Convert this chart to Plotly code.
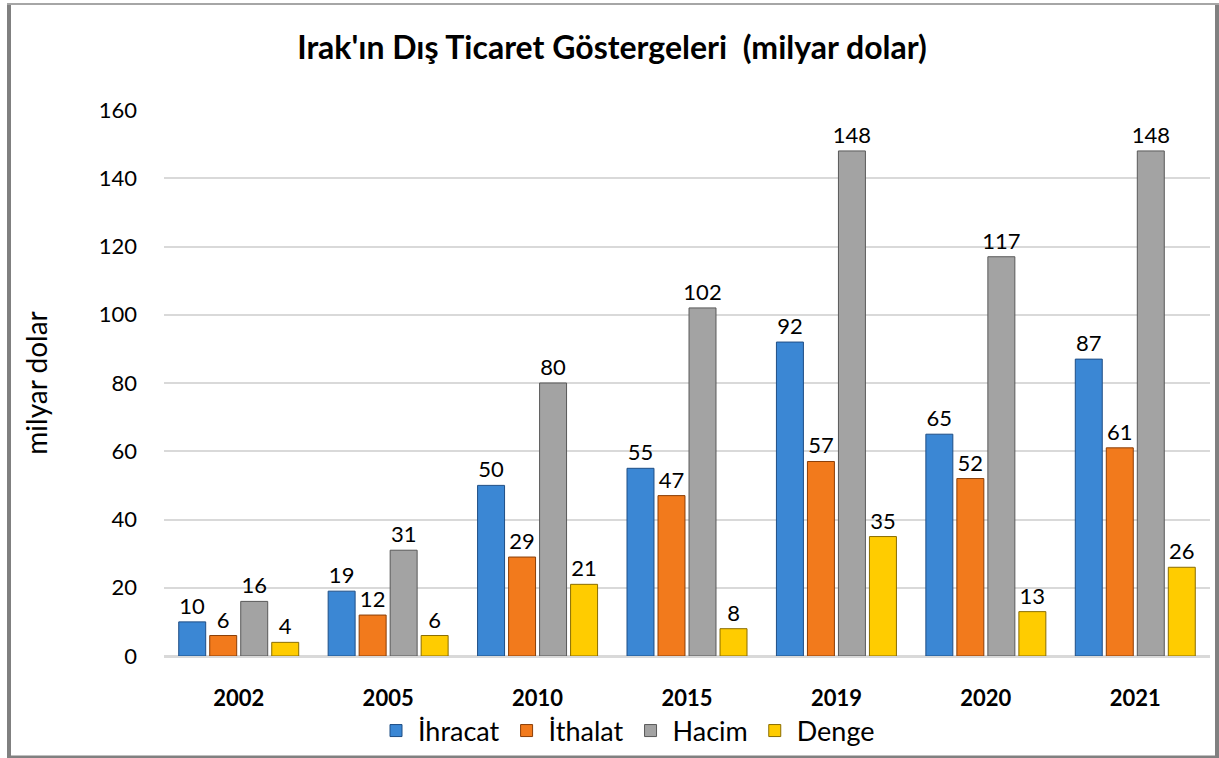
import plotly.graph_objects as go

years = ["2002", "2005", "2010", "2015", "2019", "2020", "2021"]
ihracat = [10, 19, 50, 55, 92, 65, 87]
ithalat = [6, 12, 29, 47, 57, 52, 61]
hacim = [16, 31, 80, 102, 148, 117, 148]
denge = [4, 6, 21, 8, 35, 13, 26]

series = [
    ("İhracat", ihracat, "#3b87d4", "#1f4e85"),
    ("İthalat", ithalat, "#f27a1c", "#8a3e08"),
    ("Hacim", hacim, "#a3a3a3", "#595959"),
    ("Denge", denge, "#ffcc00", "#8a6d00"),
]

W, H = 1219, 758
L, R, T, B = 164, 9, 110, 102
pw, ph = W - L - R, H - T - B

def px(x):
    return (x - L) / pw

def py(y):
    return (H - B - y) / ph

FONT = "Lato"

fig = go.Figure()
for name, vals, col, edge in series:
    fig.add_trace(go.Bar(
        x=years, y=vals, name=name,
        marker=dict(color=col, line=dict(color=edge, width=1)),
        text=[str(v) for v in vals],
        textposition="outside",
        constraintext="none",
        textfont=dict(family=FONT, size=22, color="#000000"),
        cliponaxis=False,
    ))

border = "#808080"
fig.update_layout(
    width=W, height=H,
    margin=dict(l=L, r=R, t=T, b=B, autoexpand=False),
    paper_bgcolor="white", plot_bgcolor="white",
    barmode="group", bargap=0.17, bargroupgap=0.13,
    title=dict(text="<b>Irak'ın Dış Ticaret Göstergeleri  (milyar dolar)</b>",
               x=px(612), xref="paper", xanchor="center",
               y=1 - 48 / H, yanchor="middle",
               font=dict(family=FONT, size=32, color="#000000")),
    font=dict(family=FONT, color="#000000"),
    showlegend=True,
    legend=dict(orientation="h", x=px(627), xanchor="center",
                y=py(731), yanchor="middle", bgcolor="rgba(0,0,0,0)",
                font=dict(family=FONT, size=27, color="#000000"),
                itemwidth=34, traceorder="normal"),
    shapes=[
        dict(type="line", xref="paper", yref="paper", x0=px(9), x1=px(9),
             y0=py(758), y1=py(3), line=dict(color=border, width=4)),
        dict(type="line", xref="paper", yref="paper", x0=px(1217), x1=px(1217),
             y0=py(758), y1=py(3), line=dict(color=border, width=4)),
        dict(type="line", xref="paper", yref="paper", x0=px(7), x1=px(1219),
             y0=py(757), y1=py(757), line=dict(color=border, width=3)),
        dict(type="line", xref="paper", yref="paper", x0=px(7), x1=px(1219),
             y0=py(4), y1=py(4), line=dict(color="#a6a6a6", width=2)),
    ],
)

fig.update_xaxes(showgrid=False, showline=True, linecolor="#d9d9d9", linewidth=2,
                 ticks="", ticklabelstandoff=22, automargin=False,
                 tickfont=dict(family=FONT, size=22, color="#000000"),
                 tickprefix="<b>", ticksuffix="</b>")
fig.update_yaxes(range=[0, 160], dtick=20, showgrid=True, gridcolor="#d9d9d9",
                 gridwidth=2, zeroline=True, zerolinecolor="#d9d9d9", zerolinewidth=2,
                 ticks="", ticklabelstandoff=26, automargin=False,
                 tickfont=dict(family=FONT, size=22, color="#000000"),
                 title=dict(text="milyar dolar", standoff=42,
                            font=dict(family=FONT, size=28, color="#000000")))

fig.write_html("out.html", config={"displayModeBar": False},
               post_script="document.body.style.margin='0px';")
